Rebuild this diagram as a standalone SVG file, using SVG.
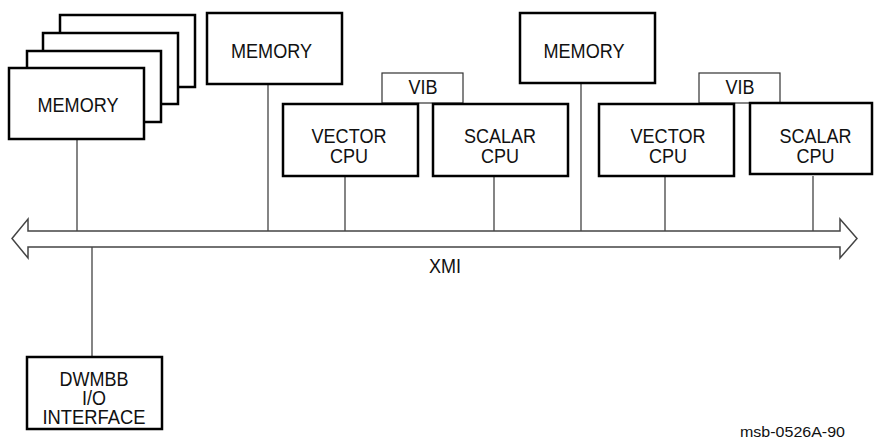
<svg xmlns="http://www.w3.org/2000/svg" width="874" height="439" viewBox="0 0 874 439">
<style>
.box{fill:#fff;stroke:#000;stroke-width:2.5}
.vib{fill:#fff;stroke:#333;stroke-width:1.2}
.ln{stroke:#333;stroke-width:1.2;fill:none}
text{font-family:"Liberation Sans",Arial,sans-serif;font-size:19.5px;fill:#111;text-anchor:middle}
.small{font-size:15.5px}
</style>
<rect width="874" height="439" fill="#fff"/>
<g id="connectors">
<line class="ln" x1="77" y1="139" x2="77" y2="231"/>
<line class="ln" x1="268" y1="84" x2="268" y2="231"/>
<line class="ln" x1="345" y1="176" x2="345" y2="231"/>
<line class="ln" x1="494" y1="176" x2="494" y2="231"/>
<line class="ln" x1="581" y1="83" x2="581" y2="231"/>
<line class="ln" x1="665" y1="176" x2="665" y2="231"/>
<line class="ln" x1="813" y1="176" x2="813" y2="231"/>
<line class="ln" x1="92" y1="247" x2="92" y2="357"/>
</g>
<g id="xmi">
<path d="M12,238.5 L28,219 L28,231 L840,231 L840,219 L857,238.5 L840,258 L840,247 L28,247 L28,258 Z" fill="#fff" stroke="#444" stroke-width="1.5" stroke-linejoin="miter"/>
<text x="445" y="273" textLength="32" lengthAdjust="spacingAndGlyphs">XMI</text>
</g>
<g id="memory-stack">
<rect class="box" x="60" y="15" width="135" height="72"/>
<rect class="box" x="43" y="33" width="135" height="71"/>
<rect class="box" x="27" y="51" width="134" height="71"/>
<rect class="box" x="9" y="68" width="135" height="71"/>
<text x="78" y="112" textLength="81" lengthAdjust="spacingAndGlyphs">MEMORY</text>
</g>
<g id="memory2">
<rect class="box" x="207" y="13" width="135" height="71"/>
<text x="271.5" y="58" textLength="81" lengthAdjust="spacingAndGlyphs">MEMORY</text>
</g>
<g id="vib1">
<rect class="vib" x="382" y="73" width="81" height="30"/>
<text x="423" y="94" textLength="29" lengthAdjust="spacingAndGlyphs">VIB</text>
</g>
<g id="vector1">
<rect class="box" x="283" y="104" width="135" height="72"/>
<text x="349" y="143" textLength="75" lengthAdjust="spacingAndGlyphs">VECTOR</text>
<text x="349" y="163" textLength="38" lengthAdjust="spacingAndGlyphs">CPU</text>
</g>
<g id="scalar1">
<rect class="box" x="433" y="104" width="135" height="72"/>
<text x="500" y="143" textLength="72" lengthAdjust="spacingAndGlyphs">SCALAR</text>
<text x="500" y="163" textLength="38" lengthAdjust="spacingAndGlyphs">CPU</text>
</g>
<g id="memory3">
<rect class="box" x="520" y="13" width="135" height="70"/>
<text x="584" y="58" textLength="81" lengthAdjust="spacingAndGlyphs">MEMORY</text>
</g>
<g id="vib2">
<rect class="vib" x="699" y="73" width="81" height="30"/>
<text x="740" y="94" textLength="29" lengthAdjust="spacingAndGlyphs">VIB</text>
</g>
<g id="vector2">
<rect class="box" x="599" y="104" width="135" height="72"/>
<text x="668" y="143" textLength="75" lengthAdjust="spacingAndGlyphs">VECTOR</text>
<text x="668" y="163" textLength="38" lengthAdjust="spacingAndGlyphs">CPU</text>
</g>
<g id="scalar2">
<rect class="box" x="750" y="103" width="122" height="71"/>
<text x="815.5" y="143" textLength="72" lengthAdjust="spacingAndGlyphs">SCALAR</text>
<text x="815.5" y="163" textLength="38" lengthAdjust="spacingAndGlyphs">CPU</text>
</g>
<g id="dwmbb">
<rect class="box" x="27" y="357" width="135" height="72"/>
<text x="94" y="386" textLength="69" lengthAdjust="spacingAndGlyphs">DWMBB</text>
<text x="94" y="405" textLength="24" lengthAdjust="spacingAndGlyphs">I/O</text>
<text x="94" y="424" textLength="103" lengthAdjust="spacingAndGlyphs">INTERFACE</text>
</g>
<text class="small" x="792.5" y="437" textLength="105" lengthAdjust="spacingAndGlyphs">msb-0526A-90</text>
</svg>
